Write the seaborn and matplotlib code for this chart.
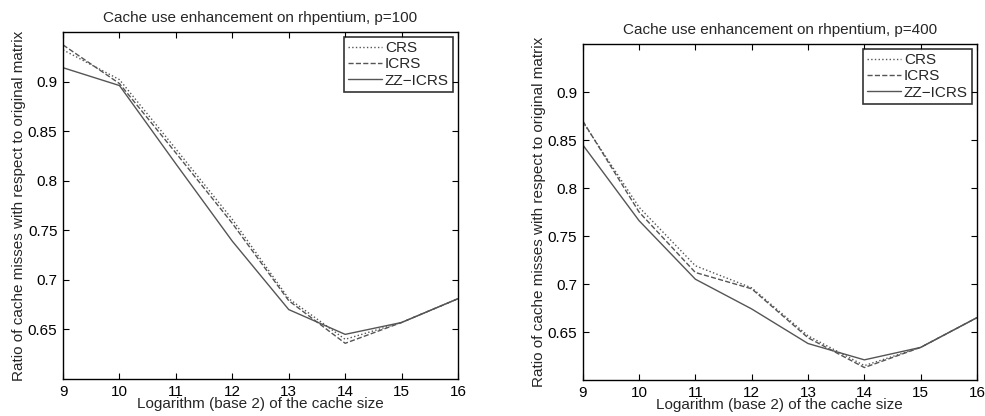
import numpy as np
import pandas as pd
import seaborn as sns
import matplotlib.pyplot as plt

# log2 of cache size
cache_log2 = [9, 10, 11, 12, 13, 14, 15, 16]
schemes = ["CRS", "ICRS", "ZZ-ICRS"]

# p=100
crs_p100 = [0.932, 0.902, 0.832, 0.761, 0.681, 0.640, 0.657, 0.681]
icrs_p100 = [0.937, 0.898, 0.828, 0.757, 0.679, 0.636, 0.657, 0.681]
zz_p100 = [0.914, 0.896, 0.817, 0.739, 0.670, 0.645, 0.657, 0.681]

# p=400
crs_p400 = [0.869, 0.780, 0.719, 0.696, 0.646, 0.615, 0.634, 0.665]
icrs_p400 = [0.870, 0.775, 0.712, 0.695, 0.644, 0.613, 0.634, 0.665]
zz_p400 = [0.845, 0.766, 0.705, 0.674, 0.638, 0.621, 0.634, 0.665]

titles = ["Cache use enhancement on rhpentium, p=100",
          "Cache use enhancement on rhpentium, p=400"]

sns.set_style("ticks")
plt.rcParams["font.family"] = ["Liberation Sans", "DejaVu Sans"]

styles = {"CRS": ":", "ICRS": "--", "ZZ-ICRS": "-"}
line_color = "#555555"


def make_df(crs, icrs, zz):
    rows = []
    for name, vals in zip(schemes, [crs, icrs, zz]):
        for x, y in zip(cache_log2, vals):
            rows.append({"x": x, "y": y, "scheme": name})
    return pd.DataFrame(rows)


fig = plt.figure(figsize=(9.85, 4.16), dpi=100)
ax1 = fig.add_axes([0.064, 0.089, 0.401, 0.834])
ax2 = fig.add_axes([0.5916, 0.0865, 0.4003, 0.8077])

panels = [(ax1, make_df(crs_p100, icrs_p100, zz_p100), titles[0]),
          (ax2, make_df(crs_p400, icrs_p400, zz_p400), titles[1])]

for ax, df, title in panels:
    for name in schemes:
        sub = df[df["scheme"] == name]
        sns.lineplot(data=sub, x="x", y="y", ax=ax, color=line_color,
                     linestyle=styles[name], linewidth=1.0,
                     label=name.replace("-", "\u2212"))
    ax.set_xlim(9, 16)
    ax.set_ylim(0.6, 0.95)
    ax.set_xticks(cache_log2)
    ax.set_yticks([0.65, 0.7, 0.75, 0.8, 0.85, 0.9])
    ax.set_yticklabels(["0.65", "0.7", "0.75", "0.8", "0.85", "0.9"])
    ax.tick_params(direction="in", top=True, right=True, labelsize=11,
                   length=4, width=0.8, colors="black", pad=4)
    for sp in ax.spines.values():
        sp.set_visible(True)
        sp.set_color("black")
        sp.set_linewidth(1.0)
    ax.set_title(title, fontsize=11, pad=7)
    ax.set_xlabel("Logarithm (base 2) of the cache size", fontsize=11, labelpad=-1)
    ax.set_ylabel("Ratio of cache misses with respect to original matrix",
                  fontsize=11, labelpad=1)
    leg = ax.legend(loc="upper right", fontsize=11, frameon=True, fancybox=False,
                    borderaxespad=0.3, handlelength=2.2, handletextpad=0.2,
                    labelspacing=0.15, borderpad=0.3)
    leg.get_frame().set_edgecolor("black")
    leg.get_frame().set_linewidth(1.2)

fig.savefig("out.png", dpi=100)
